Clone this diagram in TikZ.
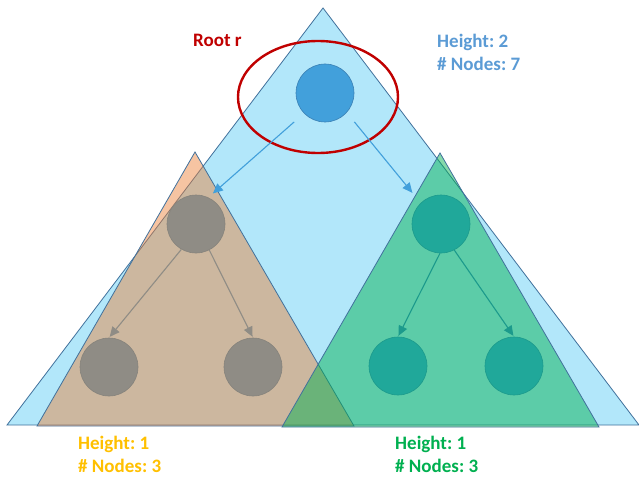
\documentclass[tikz,border=0pt]{standalone}
\usepackage{fontspec}
\setmainfont{Carlito}
\usetikzlibrary{arrows.meta}
\definecolor{skyfill}{HTML}{00B0F0}
\definecolor{triedge}{HTML}{41719C}
\definecolor{peach}{HTML}{ED7D31}
\definecolor{leaf}{HTML}{00B050}
\definecolor{rootfill}{HTML}{42A0DB}
\definecolor{rootedge}{HTML}{3A80B4}
\definecolor{stonefill}{HTML}{8F8C85}
\definecolor{stoneedge}{HTML}{86837C}
\definecolor{tealfill}{HTML}{20A89A}
\definecolor{tealedge}{HTML}{1C9A8C}
\definecolor{rootred}{HTML}{C00000}
\definecolor{bluetext}{HTML}{5B9BD5}
\definecolor{goldtext}{HTML}{FFC000}

\begin{document}
\begin{tikzpicture}[
  x=1pt, y=-1pt,
  font=\fontsize{19}{23}\selectfont\bfseries,
  >={Triangle[length=10pt,width=9pt]},
  tri/.style={draw=triedge, line width=0.8pt},
  vertex/.style={circle, minimum size=58pt, inner sep=0pt, line width=0.6pt},
  rootnode/.style={vertex, fill=rootfill, draw=rootedge},
  stonenode/.style={vertex, fill=stonefill, draw=stoneedge},
  tealnode/.style={vertex, fill=tealfill, draw=tealedge},
  edge/.style={->, line width=1.1pt},
  info/.style={anchor=north west, align=left, inner sep=0pt}
]
\useasboundingbox (0,0) rectangle (639,476);

% subtrees
\fill[white] (0,0) rectangle (639,476);
\draw[tri, fill=skyfill, fill opacity=0.3] (323,8) -- (639,425) -- (7,425) -- cycle;
\draw[tri, fill=peach, fill opacity=0.45] (195,152) -- (354,426) -- (37,426) -- cycle;
\draw[tri, fill=leaf, fill opacity=0.48] (440,153) -- (599,427) -- (282,427) -- cycle;

% nodes
\node[rootnode] (root) at (325,93) {};
\node[stonenode] (lchild) at (196,224) {};
\node[stonenode] (ll) at (109,367) {};
\node[stonenode] (lr) at (253,367) {};
\node[tealnode] (rchild) at (441,224) {};
\node[tealnode] (rl) at (398,366) {};
\node[tealnode] (rr) at (514,366) {};

\draw[rootred, line width=2.4pt] (318,97) ellipse [x radius=80, y radius=56];

% connectors
\draw[edge, rootfill, shorten <=13pt, shorten >=6pt] (root.224) -- (lchild.65);
\draw[edge, rootfill, shorten <=12pt, shorten >=13pt] (root.318) -- (rchild.134);
\draw[edge, stonefill, shorten >=1pt] (lchild.240) -- (ll.north);
\draw[edge, stonefill, shorten >=1pt] (lchild.297) -- (lr.north);
\draw[edge, tealedge, shorten >=1pt] (rchild.268) -- (rl.north);
\draw[edge, tealedge, shorten >=1pt] (rchild.297) -- (rr.north);

% labels
\node[info, text=rootred] (rootlabel) at (193,34) {Root r};
\node[info, text=bluetext] (toplabel) at (437,34) {Height:~2\\\# Nodes:~7};
\node[info, text=goldtext] (leftlabel) at (78,436) {Height:~1\\\# Nodes:~3};
\node[info, text=leaf] (rightlabel) at (395,436) {Height:~1\\\# Nodes:~3};
\end{tikzpicture}
\end{document}
